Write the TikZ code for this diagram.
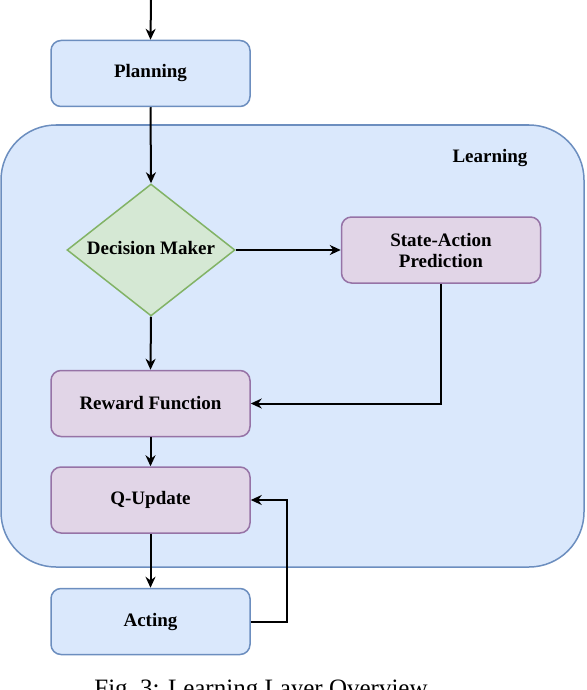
\documentclass[tikz,border=0pt]{standalone}
\usepackage{fontspec}
\setmainfont{Liberation Serif}
\usetikzlibrary{shapes.geometric,arrows.meta}
\definecolor{bfill}{HTML}{DAE8FC}
\definecolor{bdraw}{HTML}{6C8EBF}
\definecolor{pfill}{HTML}{E1D5E7}
\definecolor{pdraw}{HTML}{9673A6}
\definecolor{gfill}{HTML}{D5E8D4}
\definecolor{gdraw}{HTML}{82B366}
\tikzset{
  lbl/.style={font=\fontsize{19}{21}\selectfont\bfseries},
  box/.style={lbl, rounded corners=10pt, line width=1.5pt, minimum width=199pt, minimum height=66pt,
    align=center, inner sep=0pt},
  bluebox/.style={box, fill=bfill, draw=bdraw},
  purplebox/.style={box, fill=pfill, draw=pdraw},
  arr/.style={line width=2pt, -{Stealth[length=11pt,width=10pt]}},
}
\begin{document}
\begin{tikzpicture}[x=1pt,y=-1pt]
\useasboundingbox (0,0) rectangle (586,690);
\clip (0,0) rectangle (586,690);
% container
\node[draw=bdraw, fill=bfill, line width=1.5pt, rounded corners=55pt, minimum width=583pt, minimum height=442pt, inner sep=0pt] (learn) at (292.5,346) {};
\node[lbl] (learnlbl) at (490,158) {Learning};
% nodes
\coordinate (top) at (151,0);
\node[bluebox] (plan) at (150.5,73.5) {Planning};
\node[shape=diamond, fill=gfill, draw=gdraw, line width=1.5pt, minimum width=168pt, minimum height=132pt, inner sep=0pt] (dm) at (151,250) {};
\node[lbl] (dmlbl) at (151,248) {Decision Maker};
\node[purplebox] (sap) at (441,250) {State-Action\\Prediction};
\node[purplebox] (rew) at (150.5,403.5) {Reward Function};
\node[purplebox] (qup) at (150.5,500) {Q-Update};
\node[bluebox] (act) at (150.5,621.5) {Acting};
% connectors
\draw[arr] (top) -- (plan.north);
\draw[arr] (plan.south) -- (dm.north);
\draw[arr] (dm.east) -- (sap.west);
\draw[arr] (dm.south) -- (rew.north);
\draw[arr] (sap.south) |- (rew.east);
\draw[arr] (rew.south) -- (qup.north);
\draw[arr] (qup.south) -- (act.north);
\draw[arr] (act.east) -- ++(36,0) |- (qup.east);
% caption (cut off at the lower edge, as in the reference)
\node[font=\fontsize{25}{28}\selectfont, anchor=base] (cap) at (261,696) {Fig.~3: Learning Layer Overview};
\end{tikzpicture}
\end{document}
